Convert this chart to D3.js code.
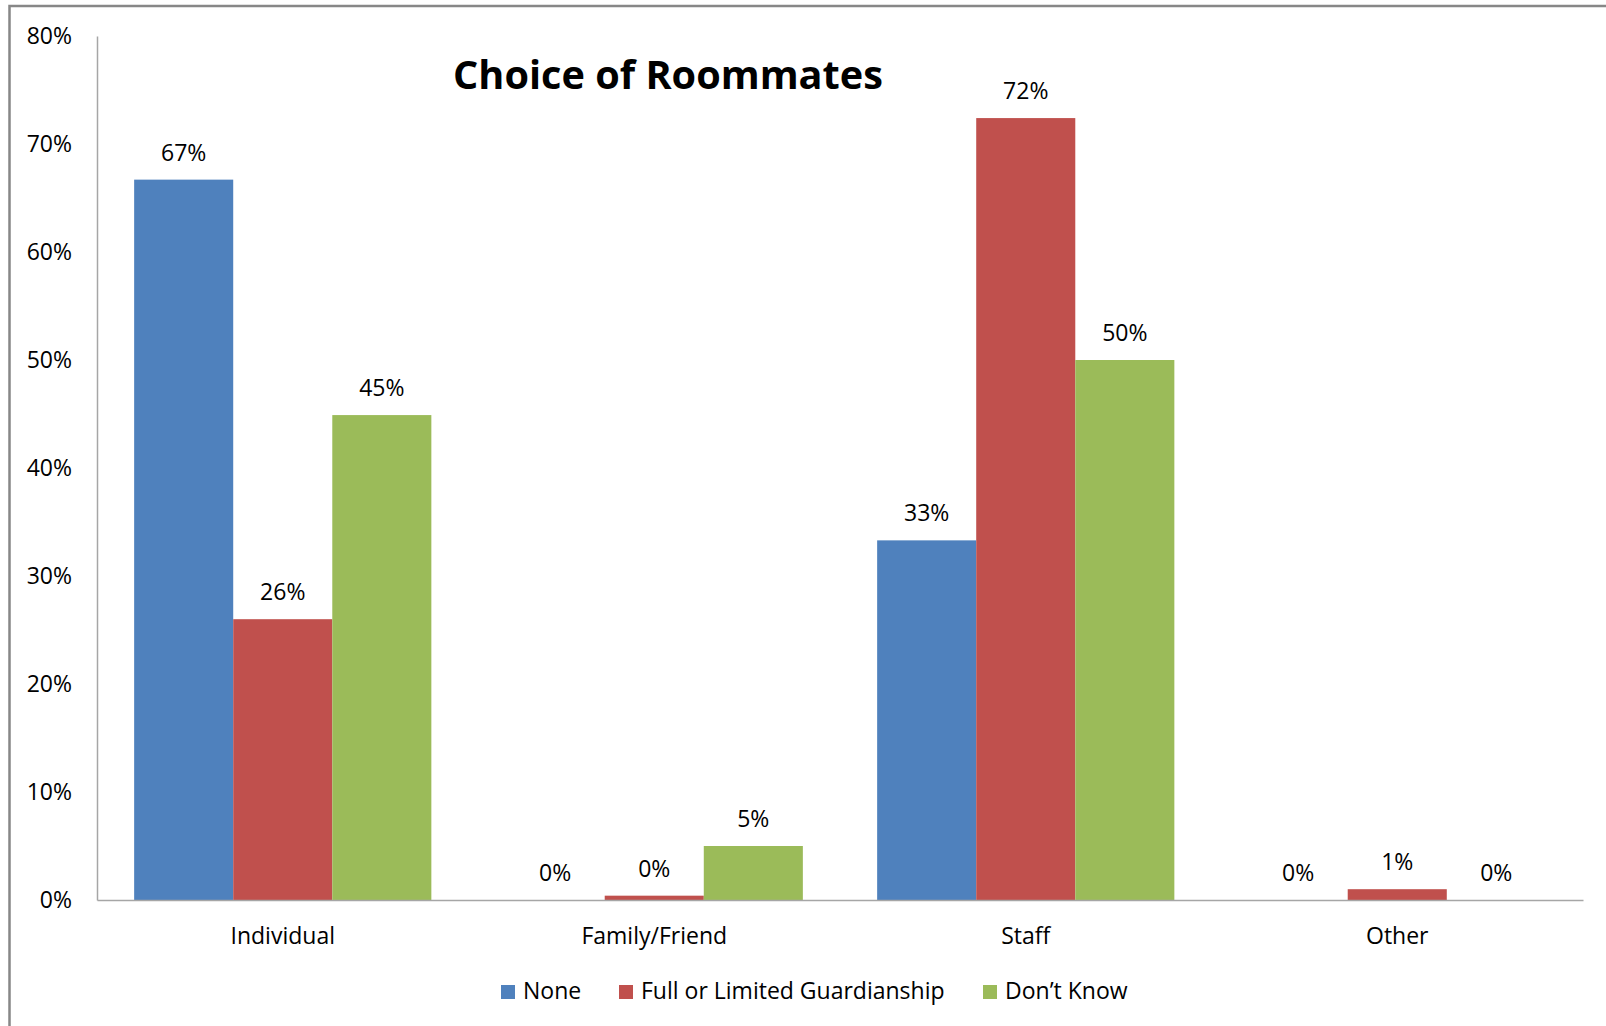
<!DOCTYPE html>
<html>
<head>
<meta charset="utf-8">
<script src="https://cdn.jsdelivr.net/npm/d3@7"></script>
<style>
  html, body { margin: 0; padding: 0; background: #fff; }
  svg { display: block; }
  text { font-family: "Open Sans", Lato, sans-serif; fill: #000; }
</style>
</head>
<body>
<svg id="chart" width="1606" height="1026"></svg>
<script>
const categories = ["Individual", "Family/Friend", "Staff", "Other"];
const seriesNames = ["None", "Full or Limited Guardianship", "Don’t Know"];
const noneValues = [66.7, 0, 33.3, 0];
const guardianshipValues = [26.0, 0.4, 72.4, 1.0];
const dontKnowValues = [44.9, 5.0, 50.0, 0];
const seriesColors = ["#4F81BD", "#C0504D", "#9BBB59"];
const yTicks = [0, 10, 20, 30, 40, 50, 60, 70, 80];
const titleText = "Choice of Roommates";

const seriesValues = [noneValues, guardianshipValues, dontKnowValues];
const data = categories.map((c, i) => ({
  category: c,
  values: seriesNames.map((s, j) => ({ series: s, idx: j, value: seriesValues[j][i] }))
}));

const FONT = "'Open Sans', Lato, sans-serif";
const FS = 23;
const svg = d3.select("#chart");

// outer frame (cropped chart border)
svg.append("rect")
  .attr("x", 9.5).attr("y", 6)
  .attr("width", 1700).attr("height", 1100)
  .attr("fill", "none").attr("stroke", "#878787").attr("stroke-width", 2.5);

const plotLeft = 97, plotRight = 1583, plotTop = 36, plotBottom = 900;

const x0 = d3.scaleBand().domain(categories).range([plotLeft, plotRight]).padding(0);
const step = x0.bandwidth();
const x1 = d3.scaleBand().domain(seriesNames).range([step * 0.1, step * 0.9]).padding(0);
const y = d3.scaleLinear().domain([0, 80]).range([plotBottom, plotTop]);

// bars
const groups = svg.append("g").selectAll("g").data(data).join("g")
  .attr("transform", d => `translate(${x0(d.category)},0)`);

groups.selectAll("rect").data(d => d.values).join("rect")
  .attr("x", d => x1(d.series))
  .attr("y", d => y(d.value))
  .attr("width", x1.bandwidth())
  .attr("height", d => y(0) - y(d.value))
  .attr("fill", d => seriesColors[d.idx]);

groups.selectAll("text.lbl").data(d => d.values).join("text")
  .attr("class", "lbl")
  .attr("x", d => x1(d.series) + x1.bandwidth() / 2)
  .attr("y", d => y(d.value) - 19)
  .attr("text-anchor", "middle")
  .attr("font-size", FS)
  .attr("fill", "#1a1a1a")
  .text(d => Math.round(d.value) + "%");

// y axis
const yAxis = svg.append("g")
  .attr("transform", `translate(${plotLeft},0)`)
  .call(d3.axisLeft(y).tickValues(yTicks).tickSize(0).tickPadding(25).tickFormat(d => d + "%"));
yAxis.select(".domain").attr("stroke", "#A6A6A6").attr("stroke-width", 1.5);
yAxis.selectAll("text").attr("font-size", FS).attr("fill", "#1a1a1a")
  .style("font-family", FONT);

// x axis
const xAxis = svg.append("g")
  .attr("transform", `translate(0,${plotBottom})`)
  .call(d3.axisBottom(x0).tickSize(0).tickPadding(0));
xAxis.select(".domain").attr("stroke", "#A6A6A6").attr("stroke-width", 1.5);
xAxis.selectAll("text").attr("dy", null).attr("y", 44)
  .attr("font-size", FS).attr("fill", "#1a1a1a")
  .style("font-family", FONT);

// title (sized to the reference width)
const title = svg.append("text")
  .attr("x", 668).attr("y", 89)
  .attr("text-anchor", "middle")
  .attr("font-size", 40)
  .attr("font-weight", "bold")
  .text(titleText);
const tw = title.node().getComputedTextLength();
if (tw > 0) title.attr("font-size", 40 * 430 / tw);

// legend
const legendItems = [
  { name: seriesNames[0], color: seriesColors[0], x: 501 },
  { name: seriesNames[1], color: seriesColors[1], x: 619 },
  { name: seriesNames[2], color: seriesColors[2], x: 983 }
];
const legend = svg.append("g").selectAll("g").data(legendItems).join("g")
  .attr("transform", d => `translate(${d.x},0)`);
legend.append("rect")
  .attr("x", 0).attr("y", 985).attr("width", 14).attr("height", 14)
  .attr("fill", d => d.color);
legend.append("text")
  .attr("x", 22).attr("y", 999)
  .attr("font-size", FS)
  .attr("fill", "#1a1a1a")
  .text(d => d.name);
</script>
</body>
</html>
